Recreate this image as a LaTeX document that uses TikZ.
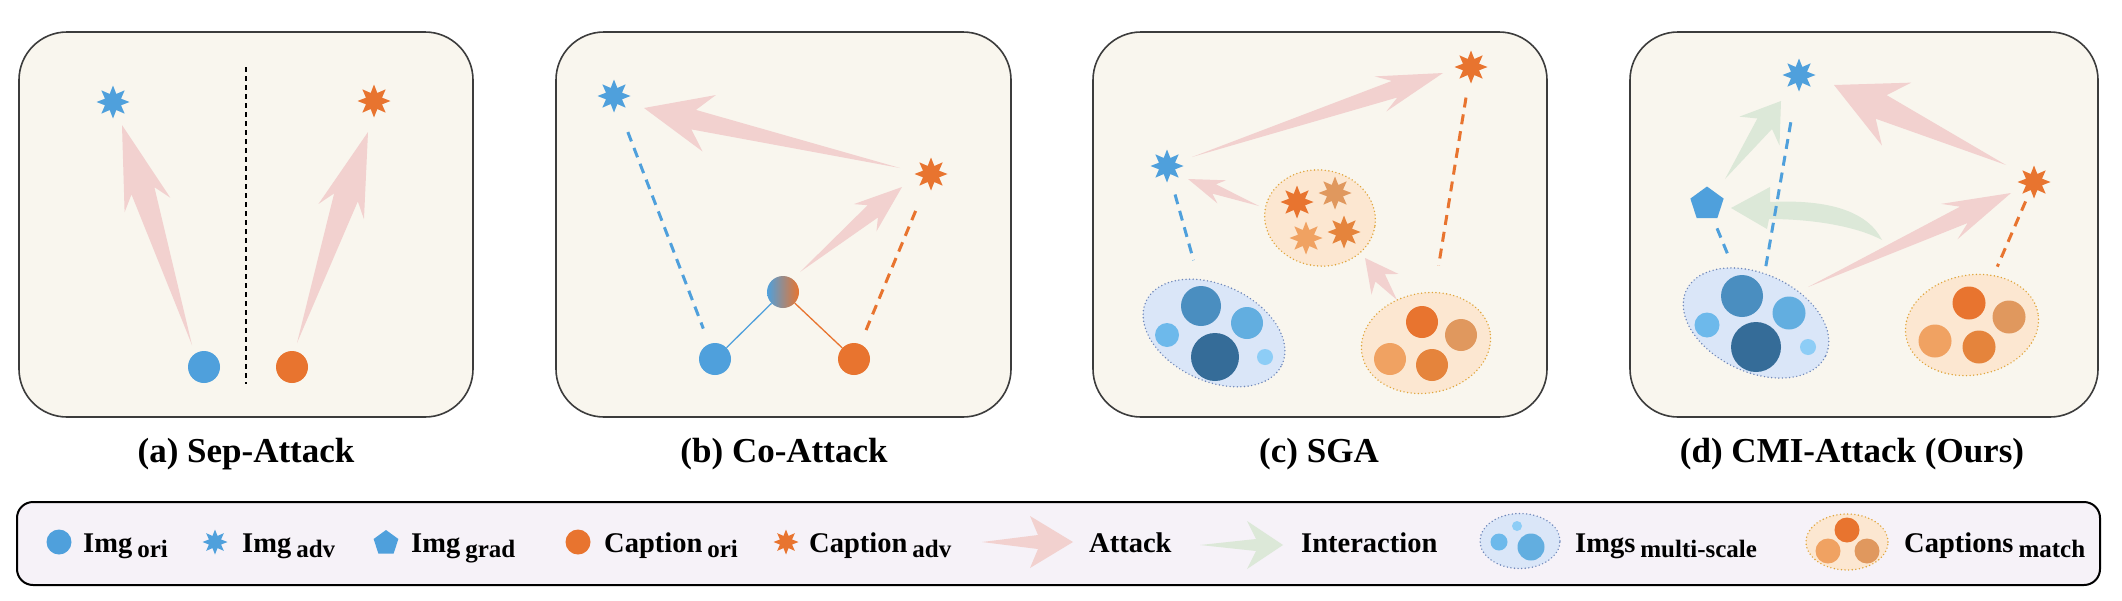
\documentclass[tikz,border=0pt]{standalone}
\usepackage{fontspec}
\setmainfont{Liberation Serif}
\usetikzlibrary{shapes.geometric,calc}

\definecolor{cblue}{HTML}{4FA0DC}
\definecolor{corange}{HTML}{E8742F}
\definecolor{cpink}{HTML}{F2D1CF}
\definecolor{cgreen}{HTML}{DCE8D8}
\definecolor{cream}{HTML}{F9F6EE}
\definecolor{lav}{HTML}{F6F2F8}
\definecolor{pborder}{HTML}{3C3C3C}
\definecolor{bA}{HTML}{4A8EC0}
\definecolor{bB}{HTML}{62AEE0}
\definecolor{bC}{HTML}{6DB9EB}
\definecolor{bD}{HTML}{356C98}
\definecolor{bE}{HTML}{8DCDF6}
\definecolor{oA}{HTML}{E8742F}
\definecolor{oB}{HTML}{E0985E}
\definecolor{oC}{HTML}{F0A262}
\definecolor{oD}{HTML}{E5843C}
\definecolor{efillb}{HTML}{DAE6F8}
\definecolor{eborderb}{HTML}{7088BA}
\definecolor{efillo}{HTML}{FCE7D1}
\definecolor{eborderO}{HTML}{E0A53A}

% #1 colour, #2 tail, #3 tip, #4 barb distance, #5 barb half width, #6 notch distance, #7 notch half width
\newcommand{\fatarrow}[7]{%
  \coordinate (fab) at ($(#3)!#4pt!(#2)$);
  \coordinate (fan) at ($(#3)!#6pt!(#2)$);
  \fill[#1] (#2) -- ($(fan)!#7pt!90:(#2)$) -- ($(fab)!#5pt!90:(#2)$) -- (#3)
    -- ($(fab)!#5pt!-90:(#2)$) -- ($(fan)!#7pt!-90:(#2)$) -- cycle;
}
\newcommand{\legsub}[1]{\kern5pt\raisebox{-5pt}{\fontsize{25pt}{25pt}\selectfont #1}}

\tikzset{
  panel/.style={draw=pborder, line width=1.6pt, fill=cream, rounded corners=48pt},
  legbox/.style={draw=black, line width=2pt, fill=lav, rounded corners=16pt},
  disc/.style={circle, inner sep=0pt, minimum size=#1},
  starn/.style={star, star points=8, star point ratio=1.9, inner sep=0pt, minimum size=#1},
  pent/.style={regular polygon, regular polygon sides=5, inner sep=0pt, minimum size=#1},
  bdash/.style={draw=cblue, line width=3pt, dash pattern=on 10pt off 7pt},
  odash/.style={draw=corange, line width=3pt, dash pattern=on 10pt off 7pt},
  divider/.style={draw=black, line width=1.3pt, dash pattern=on 5pt off 4pt},
  ellb/.style={ellipse, inner sep=0pt, fill=efillb, draw=eborderb, line width=1.6pt, line cap=round, dash pattern=on 0pt off 3.6pt},
  ello/.style={ellipse, inner sep=0pt, fill=efillo, draw=eborderO, line width=1.6pt, line cap=round, dash pattern=on 0pt off 3.6pt},
  captxt/.style={font=\fontsize{35pt}{40pt}\selectfont\bfseries, anchor=base, inner sep=0pt},
  legtxt/.style={font=\fontsize{28.5pt}{30pt}\selectfont\bfseries, anchor=base west, inner sep=0pt},
}

\begin{document}
\begin{tikzpicture}[x=1pt, y=-1pt]
\useasboundingbox (0,0) rectangle (2122,600);
\fill[white] (0,0) rectangle (2122,600);

% ---------------- panel (a)
\draw[panel] (19,32) rectangle (473,417);
\coordinate (aT1) at (192,345); \coordinate (aP1) at (122,125);
\fatarrow{cpink}{aT1}{aP1}{84}{24}{69}{12}
\coordinate (aT2) at (297,343); \coordinate (aP2) at (368,132);
\fatarrow{cpink}{aT2}{aP2}{84}{24}{69}{12.5}
\node[starn=33pt, fill=cblue] (aIa) at (113,102) {};
\node[starn=33pt, fill=corange] (aCa) at (374,101) {};
\node[disc=32pt, fill=cblue] (aIo) at (204,367) {};
\node[disc=32pt, fill=corange] (aCo) at (292,367) {};
\coordinate (aD1) at (246,67); \coordinate (aD2) at (246,384);
\draw[divider] (aD1) -- (aD2);
\node[captxt] (capa) at (246,462) {(a) Sep-Attack};

% ---------------- panel (b)
\draw[panel] (556,32) rectangle (1011,417);
\coordinate (bT1) at (900,168); \coordinate (bP1) at (644,108);
\fatarrow{cpink}{bT1}{bP1}{67}{29}{51}{10}
\coordinate (bT2) at (800,272); \coordinate (bP2) at (902,187);
\fatarrow{cpink}{bT2}{bP2}{48}{17.7}{38}{8}
\node[starn=33pt, fill=cblue] (bIa) at (614,96) {};
\node[starn=33pt, fill=corange] (bCa) at (931,174) {};
\node[disc=32pt, fill=cblue] (bIo) at (715,359) {};
\node[disc=32pt, fill=corange] (bCo) at (854,359) {};
\node[disc=32pt, left color=cblue, right color=corange] (bGr) at (783,292) {};
\draw[cblue, line width=1.3pt] (bIo) -- (bGr);
\draw[corange, line width=1.3pt] (bGr) -- (bCo);
\draw[bdash, shorten <=38.6pt, shorten >=32.6pt] (bIa.center) -- (bIo.center);
\draw[odash, shorten <=40pt, shorten >=30pt] (bCa.center) -- (bCo.center);
\node[captxt] (capb) at (784,462) {(b) Co-Attack};

% ---------------- panel (c)
\draw[panel] (1093,32) rectangle (1547,417);
\coordinate (cT1) at (1192,157); \coordinate (cP1) at (1443,73);
\fatarrow{cpink}{cT1}{cP1}{66}{18.5}{51}{8.7}
\coordinate (cT2) at (1259,206); \coordinate (cP2) at (1188,179);
\fatarrow{cpink}{cT2}{cP2}{36}{12.3}{28}{5}
\coordinate (cT3) at (1397,300); \coordinate (cP3) at (1365,258);
\fatarrow{cpink}{cT3}{cP3}{33}{17}{25}{6}
\node[ellb, minimum width=150pt, minimum height=96pt, rotate=-25] (cimg) at (1214,333) {};
\node[disc=40pt, fill=bA] (ci1) at (1201,306) {};
\node[disc=32pt, fill=bB] (ci2) at (1247,323) {};
\node[disc=24pt, fill=bC] (ci3) at (1167,335) {};
\node[disc=48pt, fill=bD] (ci4) at (1215,357) {};
\node[disc=16pt, fill=bE] (ci5) at (1265,357) {};
\node[ello, minimum width=130pt, minimum height=100pt, rotate=10] (corg) at (1426,343) {};
\node[disc=32pt, fill=oA] (co1) at (1422,322) {};
\node[disc=32pt, fill=oB] (co2) at (1461,335) {};
\node[disc=32pt, fill=oC] (co3) at (1390,359) {};
\node[disc=32pt, fill=oD] (co4) at (1432,365) {};
\node[ello, minimum width=111pt, minimum height=96pt, rotate=-8] (cclu) at (1320,218) {};
\node[starn=33pt, fill=oA] (cs1) at (1297,202) {};
\node[starn=33pt, fill=oB] (cs2) at (1335,193) {};
\node[starn=33pt, fill=oC] (cs3) at (1306,238) {};
\node[starn=33pt, fill=oD] (cs4) at (1344,232) {};
\node[starn=33pt, fill=cblue] (cIa) at (1167,166) {};
\node[starn=33pt, fill=corange] (cCa) at (1471,67) {};
\draw[bdash, shorten <=29.6pt, shorten >=75.6pt] (cIa.center) -- (cimg.center);
\draw[odash, shorten <=31pt, shorten >=78.6pt] (cCa.center) -- (corg.center);
\node[captxt] (capc) at (1319,462) {(c) SGA};

% ---------------- panel (d)
\draw[panel] (1630,32) rectangle (2098,417);
\coordinate (dT1) at (1725,179); \coordinate (dP1) at (1781,101);
\fatarrow{cgreen}{dT1}{dP1}{37}{24.7}{28}{9}
\coordinate (dgT) at (1882,240); \coordinate (dgP) at (1731,208);
\fill[cgreen] (dgP) -- (1770,187) -- (1770,202) .. controls (1830,199) and (1868,212) .. (dgT)
  .. controls (1858,227) and (1815,219) .. (1769,219) -- (1767,229) -- cycle;
\coordinate (dT2) at (1808,287); \coordinate (dP2) at (2011,193);
\fatarrow{cpink}{dT2}{dP2}{68}{19.5}{52}{9}
\coordinate (dT3) at (2006,165); \coordinate (dP3) at (1834,85);
\fatarrow{cpink}{dT3}{dP3}{69}{34.7}{52}{13}
\node[starn=33pt, fill=cblue] (dIa) at (1799,75) {};
\node[starn=33pt, fill=corange] (dCa) at (2034,182) {};
\node[pent=35pt, fill=cblue] (dIg) at (1707,204) {};
\node[ellb, minimum width=154pt, minimum height=98pt, rotate=-25] (dimg) at (1756,323) {};
\node[disc=42pt, fill=bA] (di1) at (1742,296) {};
\node[disc=33pt, fill=bB] (di2) at (1789,313) {};
\node[disc=25pt, fill=bC] (di3) at (1707,325) {};
\node[disc=50pt, fill=bD] (di4) at (1756,347) {};
\node[disc=16pt, fill=bE] (di5) at (1808,347) {};
\node[ello, minimum width=134pt, minimum height=100pt, rotate=10] (dorg) at (1972,325) {};
\node[disc=33pt, fill=oA] (do1) at (1969,303) {};
\node[disc=33pt, fill=oB] (do2) at (2009,317) {};
\node[disc=33pt, fill=oC] (do3) at (1935,341) {};
\node[disc=33pt, fill=oD] (do4) at (1979,347) {};
\draw[bdash, shorten <=26.3pt, shorten >=72.9pt] (dIg.center) -- (dimg.center);
\draw[bdash, shorten <=48pt, shorten >=55.4pt] (dIa.center) -- (dimg.center);
\draw[odash, shorten <=21.2pt, shorten >=63.6pt] (dCa.center) -- (dorg.center);
\node[captxt] (capd) at (1852,462) {(d) CMI-Attack (Ours)};

% ---------------- legend
\draw[legbox] (17,502) rectangle (2100,585);
\node[disc=25pt, fill=cblue] (lg1) at (59,542) {};
\node[legtxt] (lt1) at (83,552) {Img\legsub{ori}};
\node[starn=25pt, fill=cblue] (lg2) at (215,542) {};
\node[legtxt] (lt2) at (242,552) {Img\legsub{adv}};
\node[pent=26pt, fill=cblue] (lg3) at (386,543) {};
\node[legtxt] (lt3) at (411,552) {Img\legsub{grad}};
\node[disc=25pt, fill=corange] (lg4) at (578,542) {};
\node[legtxt] (lt4) at (604,552) {Caption\legsub{ori}};
\node[starn=25pt, fill=corange] (lg5) at (786,542) {};
\node[legtxt] (lt5) at (809,552) {Caption\legsub{adv}};
\coordinate (lT6) at (982,542); \coordinate (lP6) at (1073,542);
\fatarrow{cpink}{lT6}{lP6}{43}{26}{35}{7}
\node[legtxt] (lt6) at (1089,552) {Attack};
\coordinate (lT7) at (1200,545); \coordinate (lP7) at (1283,545);
\fatarrow{cgreen}{lT7}{lP7}{36}{24}{27}{6}
\node[legtxt] (lt7) at (1301,552) {Interaction};
\node[ellb, minimum width=80pt, minimum height=55pt] (lg8) at (1520,541) {};
\node[disc=10pt, fill=bE] (lg8a) at (1517,526) {};
\node[disc=17pt, fill=bC] (lg8b) at (1499,542) {};
\node[disc=27pt, fill=bB] (lg8c) at (1531,547) {};
\node[legtxt] (lt8) at (1575,552) {Imgs\legsub{multi-scale}};
\node[ello, minimum width=82pt, minimum height=56pt] (lg9) at (1847,542) {};
\node[disc=25pt, fill=oA] (lg9a) at (1847,530) {};
\node[disc=25pt, fill=oC] (lg9b) at (1828,551) {};
\node[disc=25pt, fill=oB] (lg9c) at (1867,551) {};
\node[legtxt] (lt9) at (1904,552) {Captions\legsub{match}};
\end{tikzpicture}
\end{document}
